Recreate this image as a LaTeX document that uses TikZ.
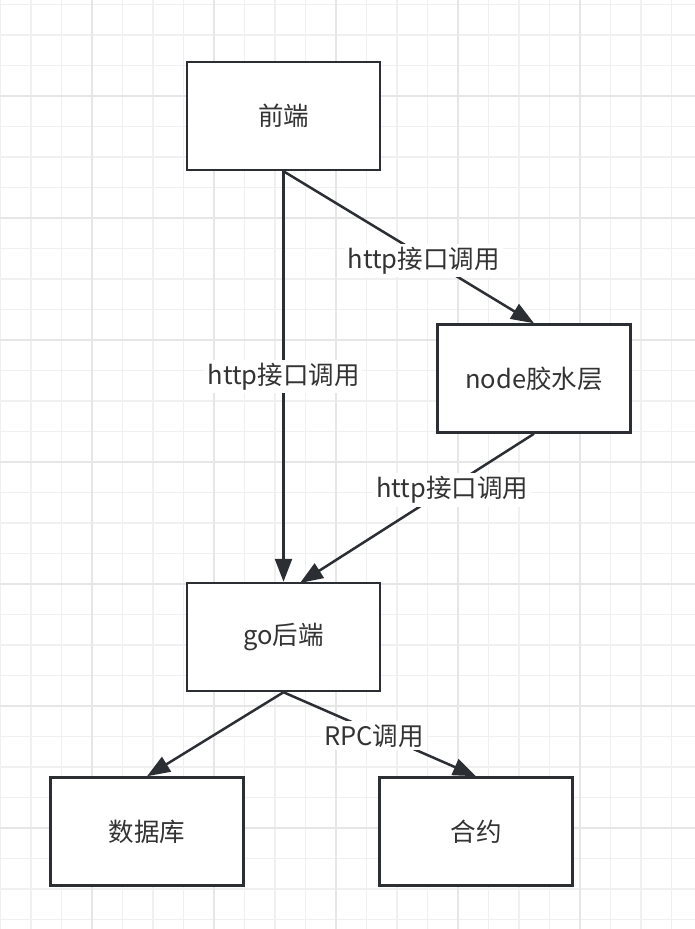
\documentclass[tikz,border=0pt]{standalone}
\usepackage{fontspec}
\setmainfont{Noto Sans CJK SC}
\usetikzlibrary{arrows.meta}
\definecolor{edgec}{HTML}{2B2F33}
\definecolor{txtc}{HTML}{333333}
\definecolor{minorg}{HTML}{F0F0F0}
\definecolor{majorg}{HTML}{E6E6E6}
\begin{document}
\begin{tikzpicture}[x=1pt,y=-1pt,
  box/.style={draw=edgec,line width=2.5pt,fill=white,minimum width=193pt,minimum height=108pt,inner sep=0pt,font=\fontsize{25.5}{30}\selectfont,text=txtc},
  conn/.style={draw=edgec,line width=2.5pt,-{Triangle[length=23pt,width=17pt]}},
  lbl/.style={fill=white,inner sep=3pt,yshift=-4pt,font=\fontsize{25.5}{30}\selectfont,text=txtc}]
\useasboundingbox (0,0) rectangle (695,929);
\fill[white] (0,0) rectangle (695,929);
% minor grid
\foreach \i in {-3,...,20} {
  \draw[minorg,line width=1.5pt] ({92+30.5*\i},0) -- ({92+30.5*\i},929);
}
\foreach \i in {-3,...,28} {
  \draw[minorg,line width=1.5pt] (0,{96+30.5*\i}) -- (695,{96+30.5*\i});
}
% major grid
\foreach \i in {-1,...,5} {
  \draw[majorg,line width=1.5pt] ({92+122*\i},0) -- ({92+122*\i},929);
}
\foreach \i in {-1,...,7} {
  \draw[majorg,line width=1.5pt] (0,{96+122*\i}) -- (695,{96+122*\i});
}
% nodes
\node[box] (fe) at (283.5,116) {前端};
\node[box] (glue) at (534,378.5) {node胶水层};
\node[box] (go) at (283.5,637) {go后端};
\node[box] (db) at (147,831.5) {数据库};
\node[box] (ct) at (476,831.5) {合约};
\coordinate (goin) at (300,583);
% connectors
\draw[conn] (fe.south) -- node[lbl,pos=0.49] {http接口调用} (go.north);
\draw[conn] (fe.south) -- node[lbl,pos=0.56] {http接口调用} (glue.north);
\draw[conn] (glue.south) -- node[lbl,pos=0.35] {http接口调用} (goin);
\draw[conn] (go.south) -- (db.north);
\draw[conn] (go.south) -- node[lbl,pos=0.47] {RPC调用} (ct.north);
\end{tikzpicture}
\end{document}
